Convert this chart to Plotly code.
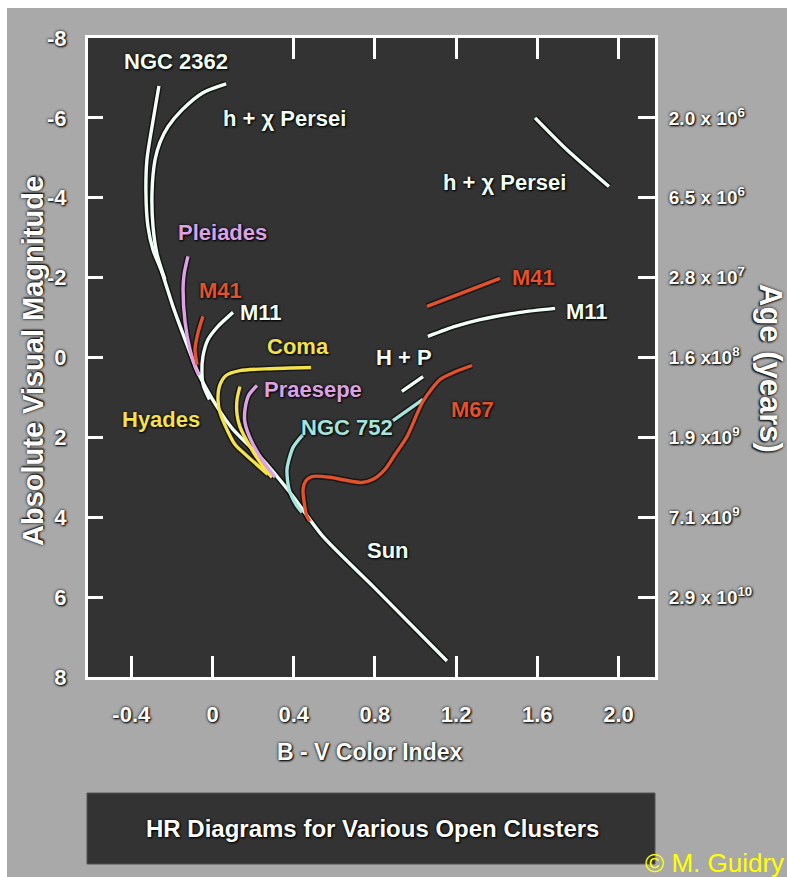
import plotly.graph_objects as go

# ---- cluster sequences: B-V colour index vs absolute visual magnitude ----
NGC2362_BV = [-0.264, -0.298, -0.323, -0.328, -0.318, -0.293, -0.249, -0.195, -0.135, -0.071,
              0.022, 0.101, 0.234, 0.382, 0.544, 0.791, 1.155]
NGC2362_MV = [-6.80, -5.78, -4.95, -4.13, -3.28, -2.70, -2.13, -1.28, -0.45, 0.38,
              1.23, 1.80, 2.48, 3.38, 4.48, 5.73, 7.60]

HCHI_BV = [0.067, -0.047, -0.150, -0.219, -0.259, -0.283, -0.298, -0.293, -0.273, -0.234,
           None, 1.589, 1.746, 1.953]
HCHI_MV = [-6.85, -6.63, -6.20, -5.78, -5.38, -4.95, -4.13, -3.28, -2.58, -1.95,
           None, -6.00, -5.20, -4.28]

PLEIADES_BV = [-0.121, -0.140, -0.145, -0.135, -0.111, -0.086, -0.067]
PLEIADES_MV = [-2.53, -2.08, -1.70, -0.88, -0.20, 0.23, 0.45]

M41_BV = [-0.047, -0.071, -0.086, -0.076, None, 1.057, 1.416]
M41_MV = [-1.03, -0.63, -0.20, 0.18, None, -1.28, -1.98]

M11_BV = [0.101, 0.027, -0.022, -0.047, -0.052, -0.045, -0.015,
          None, 1.061, 1.195, 1.318, 1.515, 1.687]
M11_MV = [-1.13, -0.78, -0.45, -0.03, 0.38, 0.70, 1.05,
          None, -0.53, -0.78, -0.95, -1.13, -1.23]

COMA_BV = [0.485, 0.283, 0.135, 0.067, 0.037, 0.027, 0.037, 0.071, 0.111, 0.200, 0.273]
COMA_MV = [0.25, 0.28, 0.33, 0.45, 0.68, 1.05, 1.38, 1.80, 2.18, 2.60, 2.93]

HYADES_BV = [0.135, 0.121, 0.121, 0.135, 0.185, 0.249, 0.293]
HYADES_MV = [0.73, 1.05, 1.43, 1.73, 2.23, 2.73, 3.00]

PRAESEPE_BV = [0.219, 0.180, 0.160, 0.160, 0.195, 0.254, 0.308]
PRAESEPE_MV = [0.70, 0.93, 1.30, 1.63, 2.13, 2.63, 3.00]

NGC752_BV = [0.446, 0.397, 0.367, 0.377, 0.411, 0.441, None, 0.889, 1.037]
NGC752_MV = [1.93, 2.25, 2.80, 3.30, 3.68, 3.88, None, 1.58, 1.05]

HP_BV = [0.933, 1.037]
HP_MV = [0.85, 0.48]

M67_BV = [0.480, 0.465, 0.446, 0.461, 0.490, 0.579, 0.663, 0.736, 0.791, 0.850,
          0.899, 0.958, 1.037, 1.121, 1.199, 1.278]
M67_MV = [4.10, 3.98, 3.30, 3.08, 2.98, 3.00, 3.08, 3.13, 3.05, 2.80,
          2.43, 1.98, 1.10, 0.55, 0.35, 0.20]

# ---- axis ticks ----
BV_TICKS = [-0.4, 0, 0.4, 0.8, 1.2, 1.6, 2.0]
BV_TICK_TEXT = ["-0.4", "0", "0.4", "0.8", "1.2", "1.6", "2.0"]
BV_TOP_TICKS = [0.4, 0.8, 1.2, 1.6, 2.0]
MV_TICKS = [-8, -6, -4, -2, 0, 2, 4, 6, 8]
MV_TICK_TEXT = ["-8", "-6", "-4", "-2", "0", "2", "4", "6", "8"]
AGE_TICKS = [-6, -4, -2, 0, 2, 4, 6]
AGE_TICK_TEXT = ["2.0 x 10<sup>6</sup>", "6.5 x 10<sup>6</sup>", "2.8 x 10<sup>7</sup>",
                 "1.6 x10<sup>8</sup>", "1.9 x10<sup>9</sup>", "7.1 x10<sup>9</sup>",
                 "2.9 x 10<sup>10</sup>"]

WHITE = "#f2fff6"
PINK = "#dca2e4"
RED = "#e2522c"
YELLOW = "#f4e24c"
CYAN = "#a6e4dc"

FONT = "Liberation Sans, Arial, sans-serif"
GLOW = "0px 0px 3px #000, 1px 1px 2px #000"

series = [
    (NGC2362_BV, NGC2362_MV, WHITE),
    (HCHI_BV, HCHI_MV, WHITE),
    (PLEIADES_BV, PLEIADES_MV, PINK),
    (M41_BV, M41_MV, RED),
    (M11_BV, M11_MV, WHITE),
    (COMA_BV, COMA_MV, YELLOW),
    (HYADES_BV, HYADES_MV, YELLOW),
    (PRAESEPE_BV, PRAESEPE_MV, PINK),
    (NGC752_BV, NGC752_MV, CYAN),
    (HP_BV, HP_MV, WHITE),
    (M67_BV, M67_MV, RED),
]

fig = go.Figure()
for bv, mv, col in series:
    fig.add_trace(go.Scatter(x=bv, y=mv, mode="lines", hoverinfo="skip",
                             line=dict(color="rgba(0,0,0,0.55)", width=6.5, shape="spline", smoothing=0.7)))
for bv, mv, col in series:
    fig.add_trace(go.Scatter(x=bv, y=mv, mode="lines", hoverinfo="skip",
                             line=dict(color=col, width=3.4, shape="spline", smoothing=0.7)))
# carrier for the top / right tick axes
fig.add_trace(go.Scatter(x=[0.5], y=[0], xaxis="x2", yaxis="y2", mode="markers",
                         marker=dict(opacity=0), hoverinfo="skip"))

labels = [
    ("NGC 2362", -0.180, -7.40, WHITE),
    ("h + χ Persei", 0.357, -5.98, WHITE),
    ("Pleiades", 0.047, -3.13, PINK),
    ("M41", 0.037, -1.68, RED),
    ("M11", 0.239, -1.13, WHITE),
    ("Coma", 0.421, -0.28, YELLOW),
    ("Praesepe", 0.495, 0.80, PINK),
    ("Hyades", -0.254, 1.55, YELLOW),
    ("NGC 752", 0.663, 1.75, CYAN),
    ("H + P", 0.943, 0.0, WHITE),
    ("M67", 1.283, 1.30, RED),
    ("M41", 1.579, -2.00, RED),
    ("M11", 1.845, -1.15, WHITE),
    ("h + χ Persei", 1.436, -4.38, WHITE),
    ("Sun", 0.865, 4.83, WHITE),
]
for txt, x, y, col in labels:
    fig.add_annotation(x=x, y=y, xref="x", yref="y", text=txt, showarrow=False,
                       xanchor="center", yanchor="middle",
                       font=dict(family=FONT, size=22, color=col, weight="bold", shadow=GLOW))

# plot frame geometry in pixels
L, R, T, B = 88, 655, 38, 677
W, H = 787, 877


def pxx(p):
    return (p - L) / (R - L)


def pxy(p):
    return (B - p) / (B - T)


fig.add_shape(type="rect", xref="paper", yref="paper", layer="below",
              x0=pxx(7), x1=pxx(W + 5), y0=pxy(H + 5), y1=pxy(8),
              fillcolor="#a9a9a9", line=dict(width=0))
fig.add_shape(type="rect", xref="paper", yref="paper", layer="below",
              x0=0, x1=1, y0=0, y1=1, fillcolor="#333333", line=dict(width=0))
fig.add_shape(type="rect", xref="paper", yref="paper", layer="below",
              x0=pxx(87), x1=pxx(655), y0=pxy(864), y1=pxy(793),
              fillcolor="#333333", line=dict(color="#555555", width=1))


def paper_text(text, x, y, size, color="white", angle=0, bold=True, shadow=GLOW):
    fig.add_annotation(xref="paper", yref="paper", x=pxx(x), y=pxy(y), text=text,
                       showarrow=False, textangle=angle, xanchor="center", yanchor="middle",
                       font=dict(family=FONT, size=size, color=color,
                                 weight="bold" if bold else "normal", shadow=shadow))


paper_text("HR Diagrams for Various Open Clusters", 372, 829, 24)
paper_text("B - V Color Index", 370, 752, 23)
paper_text("Absolute Visual Magnitude", 33, 361, 29, angle=-90)
paper_text("Age (years)", 771, 368, 31, angle=90)
paper_text("© M. Guidry", 714, 863, 26, color="#ffff00", bold=False, shadow="none")

tickfont = dict(family=FONT, size=22, color="white", weight="bold", shadow=GLOW)
axis_common = dict(showgrid=False, zeroline=False, showline=True, linecolor="white",
                   linewidth=3, ticks="inside", tickcolor="white", tickwidth=3)

fig.update_layout(
    width=W, height=H,
    margin=dict(l=L, r=W - R, t=T, b=H - B, pad=0),
    paper_bgcolor="white", plot_bgcolor="rgba(0,0,0,0)",
    showlegend=False,
    xaxis=dict(range=[(L - 212.5) / 203, (R - 212.5) / 203], tickvals=BV_TICKS,
               ticktext=BV_TICK_TEXT, ticklen=21, tickfont=tickfont,
               ticklabelstandoff=16, **axis_common),
    xaxis2=dict(overlaying="x", side="top", matches="x", tickvals=BV_TOP_TICKS,
                ticklen=21, showticklabels=False, **axis_common),
    yaxis=dict(range=[8, -8], tickvals=MV_TICKS, ticktext=MV_TICK_TEXT, ticklen=15,
               tickfont=tickfont, ticklabelstandoff=14, **axis_common),
    yaxis2=dict(overlaying="y", side="right", matches="y", tickvals=AGE_TICKS,
                ticktext=AGE_TICK_TEXT, ticklen=17, ticklabelstandoff=7,
                tickfont=dict(family=FONT, size=19, color="white", weight="bold", shadow=GLOW),
                **axis_common),
)

fig.write_html("out.html")
